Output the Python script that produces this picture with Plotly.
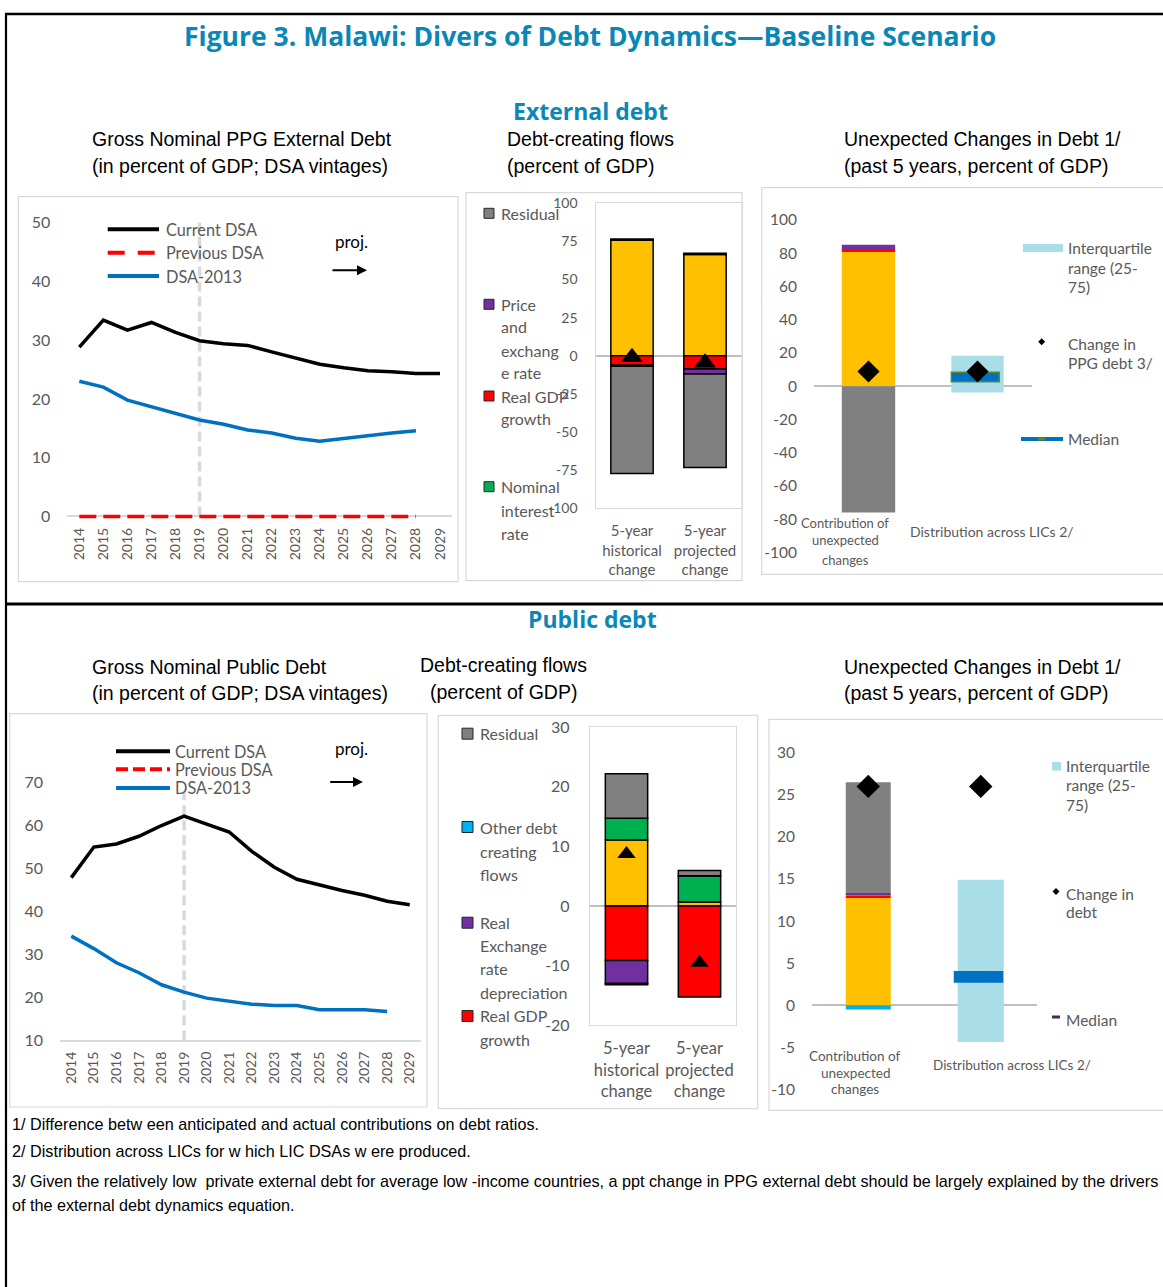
import plotly.graph_objects as go

W, H = 1163, 1287
def X(px): return px / W
def Y(py): return 1 - py / H

LATO = "Lato, Carlito, Calibri, sans-serif"
NARROW = "Liberation Sans Narrow, Arial Narrow, Liberation Sans, Arial, sans-serif"
ARIAL = "Liberation Sans, Arial, sans-serif"
TITLEF = "Open Sans, Noto Sans, sans-serif"
GREY = "#595959"
TEAL = "#0A87B6"

# ---------------- data ----------------
years = [2014, 2015, 2016, 2017, 2018, 2019, 2020, 2021, 2022, 2023, 2024, 2025, 2026, 2027, 2028, 2029]
proj_start = [2019, 2019]

ext_current = [28.8, 33.4, 31.7, 33.0, 31.3, 29.9, 29.4, 29.1, 28.0, 26.9, 25.9, 25.3, 24.8, 24.6, 24.3, 24.3]
ext_previous = [0, 0, 0, 0, 0, 0, 0, 0, 0, 0, 0, 0, 0, 0, 0, None]
ext_dsa2013 = [23.0, 22.0, 19.8, 18.7, 17.6, 16.4, 15.7, 14.7, 14.2, 13.3, 12.8, 13.3, 13.8, 14.2, 14.6, None]

pub_current = [47.8, 54.9, 55.6, 57.4, 59.9, 62.1, 60.2, 58.4, 53.9, 50.2, 47.4, 46.0, 44.8, 43.7, 42.3, 41.5]
pub_previous = [0, 0, 0, 0, 0, 0, 0, 0, 0, 0, 0, 0, 0, 0, 0, None]
pub_dsa2013 = [34.2, 31.3, 28.0, 25.7, 22.9, 21.2, 19.8, 19.1, 18.4, 18.1, 18.1, 17.1, 17.1, 17.1, 16.7, None]

flow_cats = ["5-year<br>historical<br>change", "5-year<br>projected<br>change"]

ext_ca_fdi = [75.8, 66.4]
ext_nom_int = [0.8, 0.8]
ext_real_gdp = [-6.2, -8.6]
ext_price_exch = [-0.6, -3.4]
ext_residual = [-70.3, -61.2]
ext_change = [-1.0, -4.6]

pub_primary = [11.05, 0.67]
pub_real_int = [3.65, 4.38]
pub_real_gdp = [-9.14, -15.25]
pub_rer = [-3.86, 0.0]
pub_other = [-0.2, 0.0]
pub_residual = [7.45, 0.9]
pub_change = [8.7, -9.5]

unexp_cats = ["Contribution of unexpected changes", "Distribution across LICs 2/"]
unexp_cat0_lines = ["Contribution of", "unexpected", "changes"]

ext_unexp_ca = [81.0]
ext_unexp_gdp = [1.0]
ext_unexp_price = [3.1]
ext_unexp_resid = [-76.0]
ext_unexp_change = [8.8, 8.8]
ext_iqr = [-3.8, 18.3]
ext_median_band = [2.6, 8.4]

pub_unexp_primary = [12.74]
pub_unexp_gdp = [0.32]
pub_unexp_rer = [0.28]
pub_unexp_resid = [13.16]
pub_unexp_other = [-0.5]
pub_unexp_change = [26.0, 26.0]
pub_iqr = [-4.35, 14.92]
pub_median_band = [2.69, 4.08]

# colours
C_YEL, C_GRY, C_RED, C_PUR, C_GRN, C_LBL = "#FFC000", "#808080", "#FF0000", "#7030A0", "#00B050", "#00B0F0"
C_IQR, C_MED = "#A9DDE8", "#0070C0"

fig = go.Figure()

# ---------------- line charts ----------------
def line_chart(xa, ya, cur, prev, d13, ytop):
    fig.add_trace(go.Scatter(x=proj_start, y=[ytop[0], ytop[1]], mode="lines", xaxis=xa, yaxis=ya,
                             line=dict(color="#D9D9D9", width=3.5, dash="10px,5px"), name="projection start",
                             hoverinfo="skip"))
    fig.add_trace(go.Scatter(x=years, y=cur, mode="lines", xaxis=xa, yaxis=ya, name="Current DSA",
                             line=dict(color="black", width=3.5)))
    fig.add_trace(go.Scatter(x=years, y=prev, mode="lines", xaxis=xa, yaxis=ya, name="Previous DSA",
                             line=dict(color=C_RED, width=3.5, dash="17px,7px")))
    fig.add_trace(go.Scatter(x=years, y=d13, mode="lines", xaxis=xa, yaxis=ya, name="DSA-2013",
                             line=dict(color=C_MED, width=3.5)))

line_chart("x", "y", ext_current, ext_previous, ext_dsa2013, [0, 50])
line_chart("x4", "y4", pub_current, pub_previous, pub_dsa2013, [10, 67.5])

# ---------------- debt-creating flows ----------------
def bar(xa, ya, cats, vals, color, name, width, line=True, base=None):
    fig.add_trace(go.Bar(x=cats, y=vals, base=base, xaxis=xa, yaxis=ya, name=name, width=width,
                         marker=dict(color=color, line=dict(color="black", width=1.5 if line else 0))))

bw = 0.58
bar("x2", "y2", flow_cats, ext_ca_fdi, C_YEL, "Current account + FDI", bw)
bar("x2", "y2", flow_cats, ext_real_gdp, C_RED, "Real GDP growth", bw)
bar("x2", "y2", flow_cats, ext_price_exch, C_PUR, "Price and exchange rate", bw)
bar("x2", "y2", flow_cats, ext_nom_int, C_GRN, "Nominal interest rate", bw)
bar("x2", "y2", flow_cats, ext_residual, C_GRY, "Residual", bw)
fig.add_trace(go.Scatter(x=flow_cats, y=ext_change, mode="markers", xaxis="x2", yaxis="y2",
                         name="Change in PPG debt", cliponaxis=False,
                         marker=dict(symbol="triangle-up", size=19, color="black")))

bar("x5", "y5", flow_cats, pub_primary, C_YEL, "Primary deficit", bw)
bar("x5", "y5", flow_cats, pub_real_int, C_GRN, "Real interest rate", bw)
bar("x5", "y5", flow_cats, pub_real_gdp, C_RED, "Real GDP growth", bw)
bar("x5", "y5", flow_cats, pub_rer, C_PUR, "Real Exchange rate depreciation", bw)
bar("x5", "y5", flow_cats, pub_other, C_LBL, "Other debt creating flows", bw)
bar("x5", "y5", flow_cats, pub_residual, C_GRY, "Residual", bw)
fig.add_trace(go.Scatter(x=flow_cats, y=pub_change, mode="markers", xaxis="x5", yaxis="y5",
                         name="Change in debt", cliponaxis=False,
                         marker=dict(symbol="triangle-up", size=16, color="black")))

# ---------------- unexpected changes ----------------
c0 = [unexp_cats[0]]
c1 = [unexp_cats[1]]
bar("x3", "y3", c0, ext_unexp_ca, C_YEL, "Current account + FDI", 0.49, line=False)
bar("x3", "y3", c0, ext_unexp_gdp, C_RED, "Real GDP growth", 0.49, line=False)
bar("x3", "y3", c0, ext_unexp_price, C_PUR, "Price and exchange rate", 0.49, line=False)
bar("x3", "y3", c0, ext_unexp_resid, C_GRY, "Residual", 0.49, line=False)
fig.add_trace(go.Bar(x=c1, y=[ext_iqr[1] - ext_iqr[0]], base=[ext_iqr[0]], xaxis="x3", yaxis="y3",
                     width=0.48, name="Interquartile range (25-75)", marker=dict(color=C_IQR, line=dict(width=0))))
fig.add_trace(go.Bar(x=c1, y=[ext_median_band[1] - ext_median_band[0]], base=[ext_median_band[0]],
                     xaxis="x3", yaxis="y3", width=0.44, offset=-0.24, name="Median",
                     marker=dict(color=C_MED, line=dict(color="#5B8A2E", width=1.5))))
fig.add_trace(go.Scatter(x=unexp_cats, y=ext_unexp_change, mode="markers", xaxis="x3", yaxis="y3",
                         name="Change in PPG debt 3/", cliponaxis=False,
                         marker=dict(symbol="diamond", size=17, color="black")))

bar("x6", "y6", c0, pub_unexp_primary, C_YEL, "Primary deficit", 0.40, line=False)
bar("x6", "y6", c0, pub_unexp_gdp, C_RED, "Real GDP growth", 0.40, line=False)
bar("x6", "y6", c0, pub_unexp_rer, C_PUR, "Real Exchange rate depreciation", 0.40, line=False)
bar("x6", "y6", c0, pub_unexp_resid, C_GRY, "Residual", 0.40, line=False)
bar("x6", "y6", c0, pub_unexp_other, C_LBL, "Other debt creating flows", 0.40, line=False)
fig.add_trace(go.Bar(x=c1, y=[pub_iqr[1] - pub_iqr[0]], base=[pub_iqr[0]], xaxis="x6", yaxis="y6",
                     width=0.41, name="Interquartile range (25-75)", marker=dict(color=C_IQR, line=dict(width=0))))
fig.add_trace(go.Bar(x=c1, y=[pub_median_band[1] - pub_median_band[0]], base=[pub_median_band[0]],
                     xaxis="x6", yaxis="y6", width=0.44, offset=-0.24, name="Median",
                     marker=dict(color=C_MED, line=dict(width=0))))
fig.add_trace(go.Scatter(x=unexp_cats, y=pub_unexp_change, mode="markers", xaxis="x6", yaxis="y6",
                         name="Change in debt", cliponaxis=False,
                         marker=dict(symbol="diamond", size=18, color="black")))

# ---------------- axes ----------------
def ticks(vals):
    return dict(tickvals=vals, ticktext=[str(v) for v in vals])

def yax(top, bottom, rng, vals, size, standoff, box=False, zl="#D9D9D9"):
    d = dict(domain=[Y(bottom), Y(top)], range=rng, showgrid=False, zeroline=True, zerolinecolor=zl,
             zerolinewidth=1.5, ticks="", tickfont=dict(family=LATO, size=size, color=GREY),
             ticklabelstandoff=standoff, automargin=False, fixedrange=True, **ticks(vals))
    if box:
        d.update(showline=True, mirror=True, linecolor="#D9D9D9", linewidth=1.3)
    return d

def xax_years(left, right, anchor, showline):
    return dict(domain=[X(left), X(right)], range=[2013.5, 2029.5], anchor=anchor, showgrid=False,
                zeroline=False, showline=showline, linecolor="#D9D9D9", linewidth=1.5, ticks="",
                tickangle=-90, tickfont=dict(family=LATO, size=14, color=GREY), ticklabelstandoff=4,
                automargin=False, fixedrange=True, **ticks(years))

def xax_cat(left, right, anchor, box, size, standoff, labels=True):
    d = dict(domain=[X(left), X(right)], range=[-0.5, 1.5], anchor=anchor, showgrid=False, zeroline=False,
             type="category", ticks="", showticklabels=labels, tickangle=0,
             tickfont=dict(family=LATO, size=size, color=GREY), ticklabelstandoff=standoff,
             automargin=False, fixedrange=True)
    if box:
        d.update(showline=True, mirror=True, linecolor="#D9D9D9", linewidth=1.3)
    return d

fig.update_layout(
    xaxis=xax_years(67.3, 452, "y", False),
    yaxis=yax(219.6, 520.0, [-0.6, 50.5], [0, 10, 20, 30, 40, 50], 16, 16),
    xaxis2=xax_cat(595.5, 741.5, "y2", True, 15, 9),
    yaxis2=yax(203.3, 508.3, [-100, 100], [-100, -75, -50, -25, 0, 25, 50, 75, 100], 14, 14,
               box=True, zl="#BFBFBF"),
    xaxis3=xax_cat(814, 1032, "y3", False, 13, 4, labels=False),
    yaxis3=yax(220, 552.3, [-100, 100], [-100, -80, -60, -40, -20, 0, 20, 40, 60, 80, 100], 15.5, 16,
               zl="#BFBFBF"),
    xaxis4=xax_years(60, 421, "y4", True),
    yaxis4=yax(739, 1040.3, [10, 80], [10, 20, 30, 40, 50, 60, 70], 16, 16),
    xaxis5=xax_cat(590, 736, "y5", True, 16.5, 8),
    yaxis5=yax(727, 1025.3, [-20, 30], [-20, -10, 0, 10, 20, 30], 16, 16, box=True, zl="#BFBFBF"),
    xaxis6=xax_cat(812, 1037, "y6", False, 13, 4, labels=False),
    yaxis6=yax(752.7, 1089.6, [-10, 30], [-10, -5, 0, 5, 10, 15, 20, 25, 30], 15.5, 16, zl="#BFBFBF"),
)
for i in ["", "2", "3", "4", "5", "6"]:
    fig.layout["yaxis" + i].anchor = "x" + i

# ---------------- decorations ----------------
shapes = []
anns = []

def pline(x0, y0, x1, y1, color, width, dash=None):
    ln = dict(color=color, width=width)
    if dash:
        ln["dash"] = dash
    shapes.append(dict(type="line", xref="paper", yref="paper", x0=X(x0), y0=Y(y0), x1=X(x1), y1=Y(y1), line=ln))

def prect(x0, y0, x1, y1, fill=None, line="#D9D9D9", lw=1.2):
    shapes.append(dict(type="rect", xref="paper", yref="paper", x0=X(x0), y0=Y(y0), x1=X(x1), y1=Y(y1),
                       fillcolor=fill if fill else "rgba(0,0,0,0)",
                       line=dict(color=line, width=lw) if lw else dict(width=0)))

def pdiamond(xc, yc, r):
    path = "M {a},{b} L {c},{d} L {a},{e} L {f},{d} Z".format(
        a=X(xc), b=Y(yc - r), c=X(xc + r), d=Y(yc), e=Y(yc + r), f=X(xc - r))
    shapes.append(dict(type="path", xref="paper", yref="paper", path=path, fillcolor="black",
                       line=dict(width=0)))

def txt(x, y, s, size=16, color=GREY, family=LATO, xanchor="left"):
    anns.append(dict(x=X(x), y=Y(y), xref="paper", yref="paper", text=s, showarrow=False,
                     xanchor=xanchor, yanchor="middle", font=dict(family=family, size=size, color=color)))

def arrow(x0, x1, y):
    anns.append(dict(x=X(x1), y=Y(y), xref="paper", yref="paper", ax=x0 - x1, ay=0, text="",
                     showarrow=True, arrowhead=2, arrowsize=1, arrowwidth=2, arrowcolor="black"))

# outer frame
pline(5, 14, 1163, 14, "black", 2.5)
pline(6, 13, 6, 1287, "black", 2.2)
pline(5, 604, 1163, 604, "black", 3)

# chart area boxes
prect(18.3, 196.7, 458, 581.7)
prect(466, 192.7, 742, 580.7)
prect(761.7, 187.7, 1170, 574.3)
prect(9.7, 713.7, 427, 1107)
prect(438.3, 715.3, 757.7, 1108.7)
prect(769, 719.3, 1170, 1110.3)

# titles
txt(590, 36, "<b>Figure 3. Malawi: Divers of Debt Dynamics—Baseline Scenario</b>", 26.5, TEAL, TITLEF, "center")
txt(591, 111, "<b>External debt</b>", 23, TEAL, TITLEF, "center")
txt(592, 619, "<b>Public debt</b>", 23, TEAL, TITLEF, "center")

# panel subtitles
SUB = 19.5
txt(90, 139, "Gross Nominal PPG External Debt", SUB, "black", NARROW)
txt(90, 166, "(in percent of GDP; DSA vintages)", SUB, "black", NARROW)
txt(505, 139, "Debt-creating flows", SUB, "black", NARROW)
txt(505, 166, "(percent of GDP)", SUB, "black", NARROW)
txt(842, 139, "Unexpected Changes in Debt 1/", SUB, "black", NARROW)
txt(842, 166, "(past 5 years, percent of GDP)", SUB, "black", NARROW)
txt(90, 667, "Gross Nominal Public Debt", SUB, "black", NARROW)
txt(90, 693, "(in percent of GDP; DSA vintages)", SUB, "black", NARROW)
txt(503, 665, "Debt-creating flows", SUB, "black", NARROW, "center")
txt(503, 692, "(percent of GDP)", SUB, "black", NARROW, "center")
txt(842, 667, "Unexpected Changes in Debt 1/", SUB, "black", NARROW)
txt(842, 693, "(past 5 years, percent of GDP)", SUB, "black", NARROW)

# line chart legends
pline(107.7, 229.3, 159, 229.3, "black", 4)
pline(107.7, 252.7, 159, 252.7, C_RED, 4, "17px,13px")
pline(107.7, 276, 159, 276, C_MED, 4)
txt(164, 229.3, "Current DSA", 16.3)
txt(164, 252.7, "Previous DSA", 16.3)
txt(164, 276, "DSA-2013", 16.3)
txt(351, 241.7, "proj.", 17, "black", LATO, "center")
arrow(331, 367, 270.3)

pline(116, 751.3, 170, 751.3, "black", 4)
pline(116, 769.3, 170, 769.3, C_RED, 4, "12px,5px")
pline(116, 788, 170, 788, C_MED, 4)
txt(173, 751.3, "Current DSA", 16.3)
txt(173, 769.3, "Previous DSA", 16.3)
txt(173, 788, "DSA-2013", 16.3)
txt(351.3, 748.7, "proj.", 17, "black", LATO, "center")
arrow(328.7, 363, 782)

# flows legends
def sq(xc, yc, color, s=10):
    prect(xc - s / 2, yc - s / 2, xc + s / 2, yc + s / 2, fill=color, line="#262626", lw=1)

for yc, c in [(213.3, C_GRY), (304.3, C_PUR), (396, C_RED), (486.7, C_GRN)]:
    sq(489, yc, c)
for yc, s in [(213.3, "Residual"), (304.3, "Price"), (327, "and"), (350, "exchang"), (372.7, "e rate"),
              (396, "Real GDP"), (418.7, "growth"), (486.7, "Nominal"), (510, "interest"), (533.3, "rate")]:
    txt(498.5, yc, s, 16)

for yc, c in [(733.7, C_GRY), (827, C_LBL), (922.7, C_PUR), (1016, C_RED)]:
    sq(467.5, yc, c, 11)
for yc, s in [(733.7, "Residual"), (827, "Other debt"), (851.3, "creating"), (874.7, "flows"),
              (922.7, "Real"), (945.3, "Exchange"), (968.7, "rate"), (992, "depreciation"),
              (1016, "Real GDP"), (1039.3, "growth")]:
    txt(477.5, yc, s, 16)

# unexpected-change legends and category labels
prect(1023, 244, 1063, 252, fill=C_IQR, lw=0)
for yc, s in [(248.3, "Interquartile"), (268.3, "range (25-"), (286.7, "75)"),
              (344.3, "Change in"), (362.7, "PPG debt 3/"), (439, "Median")]:
    txt(1066, yc, s, 15.5)
pdiamond(1041.7, 341.7, 3.5)
pline(1021, 439, 1063, 439, C_MED, 4)
pline(1038, 439, 1045, 439, "#5B8A2E", 3)

prect(1052, 762, 1061, 770.5, fill=C_IQR, lw=0)
for yc, s in [(766.3, "Interquartile"), (785.3, "range (25-"), (804.7, "75)"),
              (893.7, "Change in"), (912, "debt"), (1020.3, "Median")]:
    txt(1063.5, yc, s, 15.5)
pdiamond(1056, 891.5, 3.5)
pline(1052, 1017, 1060, 1017, "#3F3151", 3)

for yc, s in zip([523.3, 540, 560], unexp_cat0_lines):
    txt(845, yc, s, 13, GREY, LATO, "center")
txt(992, 531, unexp_cats[1], 14, GREY, LATO, "center")
for yc, s in zip([1056, 1072.5, 1089], unexp_cat0_lines):
    txt(855, yc, s, 13.5, GREY, LATO, "center")
txt(1011.7, 1064.7, unexp_cats[1], 13.5, GREY, LATO, "center")

# footnotes
FN = 16.2
txt(10, 1124, "1/ Difference betw een anticipated and actual contributions on debt ratios.", FN, "black", ARIAL)
txt(10, 1151, "2/ Distribution across LICs for w hich LIC DSAs w ere produced.", FN, "black", ARIAL)
txt(10, 1181, "3/ Given the relatively low  private external debt for average low -income countries, a ppt change in PPG external debt should be largely explained by the drivers", FN, "black", ARIAL)
txt(10, 1205, "of the external debt dynamics equation.", FN, "black", ARIAL)

fig.update_layout(
    width=W, height=H, margin=dict(l=0, r=0, t=0, b=0, pad=0),
    paper_bgcolor="white", plot_bgcolor="white",
    barmode="relative", showlegend=False,
    font=dict(family=LATO, color=GREY),
    shapes=shapes, annotations=anns,
)

fig.write_html("out.html")
